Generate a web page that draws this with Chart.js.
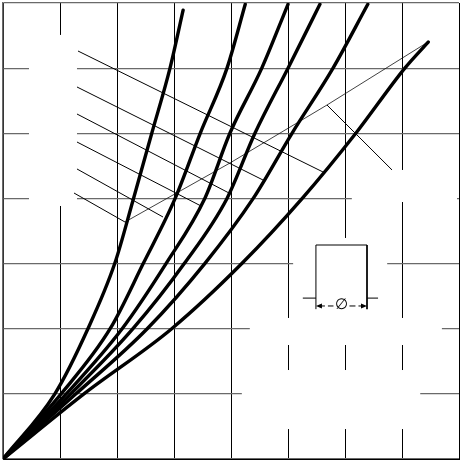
<!DOCTYPE html>
<html>
<head>
<meta charset="utf-8">
<script src="https://cdn.jsdelivr.net/npm/chart.js@4/dist/chart.umd.min.js"></script>
<style>
  html, body { margin: 0; padding: 0; background: #fff; }
  #wrap { width: 460px; height: 461px; position: relative; }
</style>
</head>
<body>
<div id="wrap"><canvas id="myChart"></canvas></div>
<script>
    'use strict';

    // curves (x in grid units, y in grid units)
    var curve1X = [0, 0.91, 1.49, 1.96, 2.29, 2.61, 2.93, 3.16];
    var curve1Y = [0, 1, 2, 3, 4, 5, 6, 6.89];
    var curve2X = [0, 1.02, 1.88, 2.46, 3.02, 3.46, 3.93, 4.25];
    var curve2Y = [0, 1, 2, 3, 4, 5, 6, 6.98];
    var curve3X = [0, 1.11, 2.09, 2.86, 3.54, 3.98, 4.54, 5.0];
    var curve3Y = [0, 1, 2, 3, 4, 5, 6, 6.98];
    var curve4X = [0, 1.19, 2.28, 3.18, 3.93, 4.42, 5.0, 5.56];
    var curve4Y = [0, 1, 2, 3, 4, 5, 6, 6.98];
    var curve5X = [0, 1.28, 2.53, 3.54, 4.39, 5.07, 5.79, 6.40];
    var curve5Y = [0, 1, 2, 3, 4, 5, 6, 6.98];
    var curve6X = [0, 1.42, 2.96, 4.19, 5.25, 6.19, 7.05, 7.46];
    var curve6Y = [0, 1, 2, 3, 4, 5, 6, 6.40];

    // leader lines from the (blank) labels on the left to the curves
    var leaderStartX = [1.316, 1.298, 1.298, 1.298, 1.298, 1.246];
    var leaderStartY = [6.263, 5.711, 5.296, 4.866, 4.452, 4.083];
    var leaderEndX = [5.614, 4.561, 3.998, 3.474, 2.807, 2.14];
    var leaderEndY = [4.406, 4.283, 4.068, 3.884, 3.715, 3.638];

    // thin line through curve tips and its leader
    var tipLineX = [2.14, 3.982, 5.684, 7.456];
    var tipLineY = [3.638, 4.544, 5.434, 6.401];
    var tipLeaderX = [5.684, 6.825];
    var tipLeaderY = [5.434, 4.437];

    // blanked label areas [x1, x2, y1, y2]
    var blankBoxes = [
        [0.456, 1.298, 6.51, 3.884],
        [6.12, 7.965, 4.437, 3.945],
        [5.09, 6.74, 3.393, 1.75],
        [4.33, 7.70, 2.165, 1.75],
        [4.19, 7.32, 1.366, 0.46]
    ];

    // diameter symbol
    var symbolX = [5.49, 5.49, 6.386, 6.386];
    var symbolY = [2.30, 3.285, 3.285, 2.30];
    var symbolTickLeftX = [5.26, 5.49];
    var symbolTickRightX = [6.386, 6.58];
    var symbolTickY = 2.47;
    var dimY = 2.349;
    var dimLabel = '\u2205';

    function pts(xs, ys) {
        return xs.map(function (x, i) { return { x: x, y: ys[i] }; });
    }

    var datasets = [];
    [[curve1X, curve1Y], [curve2X, curve2Y], [curve3X, curve3Y],
     [curve4X, curve4Y], [curve5X, curve5Y], [curve6X, curve6Y]].forEach(function (c) {
        datasets.push({
            data: pts(c[0], c[1]),
            borderColor: '#000',
            borderWidth: 3.4,
            pointRadius: 0,
            cubicInterpolationMode: 'monotone',
            borderCapStyle: 'round'
        });
    });

    leaderStartX.forEach(function (x, i) {
        datasets.push({
            data: [{ x: x, y: leaderStartY[i] }, { x: leaderEndX[i], y: leaderEndY[i] }],
            borderColor: '#000',
            borderWidth: 1,
            pointRadius: 0,
            tension: 0
        });
    });

    datasets.push({
        data: pts(tipLineX, tipLineY),
        borderColor: '#111',
        borderWidth: 0.8,
        pointRadius: 0,
        tension: 0
    });
    datasets.push({
        data: pts(tipLeaderX, tipLeaderY),
        borderColor: '#000',
        borderWidth: 1,
        pointRadius: 0,
        tension: 0
    });
    datasets.push({
        data: pts(symbolX, symbolY),
        borderColor: '#000',
        borderWidth: 1,
        pointRadius: 0,
        tension: 0
    });
    datasets.push({
        data: pts(symbolTickLeftX, [symbolTickY, symbolTickY]),
        borderColor: '#000',
        borderWidth: 1,
        pointRadius: 0
    });
    datasets.push({
        data: pts(symbolTickRightX, [symbolTickY, symbolTickY]),
        borderColor: '#000',
        borderWidth: 1,
        pointRadius: 0
    });

    var blankPlugin = {
        id: 'blanks',
        beforeDatasetsDraw: function (chart) {
            var ctx = chart.ctx, xs = chart.scales.x, ys = chart.scales.y;
            ctx.save();
            ctx.fillStyle = '#fff';
            blankBoxes.forEach(function (b) {
                var x1 = xs.getPixelForValue(b[0]), x2 = xs.getPixelForValue(b[1]);
                var y1 = ys.getPixelForValue(b[2]), y2 = ys.getPixelForValue(b[3]);
                ctx.fillRect(x1, y1, x2 - x1, y2 - y1);
            });
            ctx.restore();
        },
        afterDatasetsDraw: function (chart) {
            var ctx = chart.ctx, xs = chart.scales.x, ys = chart.scales.y;
            var x1 = xs.getPixelForValue(symbolX[0]), x2 = xs.getPixelForValue(symbolX[2]);
            var y = ys.getPixelForValue(dimY);
            var mid = (x1 + x2) / 2;
            ctx.save();
            ctx.strokeStyle = '#000';
            ctx.fillStyle = '#000';
            ctx.lineWidth = 1;
            ctx.setLineDash([6, 3]);
            ctx.beginPath();
            ctx.moveTo(x1 + 3, y); ctx.lineTo(mid - 8, y);
            ctx.moveTo(mid + 8, y); ctx.lineTo(x2 - 3, y);
            ctx.stroke();
            ctx.setLineDash([]);
            ctx.beginPath();
            ctx.moveTo(x1, y); ctx.lineTo(x1 + 6, y - 2.5); ctx.lineTo(x1 + 6, y + 2.5); ctx.closePath();
            ctx.moveTo(x2, y); ctx.lineTo(x2 - 6, y - 2.5); ctx.lineTo(x2 - 6, y + 2.5); ctx.closePath();
            ctx.fill();
            ctx.font = '15px "DejaVu Sans"';
            ctx.textAlign = 'center';
            ctx.textBaseline = 'middle';
            ctx.fillText(dimLabel, mid, y - 1);
            ctx.restore();
        }
    };

    new Chart(document.getElementById('myChart'), {
        type: 'line',
        data: { datasets: datasets },
        options: {
            responsive: true,
            maintainAspectRatio: false,
            animation: false,
            layout: { padding: { left: 3, right: 1, top: 3, bottom: 2 } },
            plugins: {
                legend: { display: false },
                tooltip: { enabled: false }
            },
            scales: {
                x: {
                    type: 'linear',
                    min: 0,
                    max: 8,
                    ticks: { display: false, stepSize: 1 },
                    grid: { color: '#000', lineWidth: 1, drawTicks: false },
                    border: { color: '#000', width: 1 }
                },
                y: {
                    type: 'linear',
                    min: 0,
                    max: 7,
                    ticks: { display: false, stepSize: 1 },
                    grid: { color: '#6a6a6a', lineWidth: 1.2, drawTicks: false },
                    border: { color: '#6a6a6a', width: 1.5 }
                }
            }
        },
        plugins: [blankPlugin]
    });
</script>
</body>
</html>
